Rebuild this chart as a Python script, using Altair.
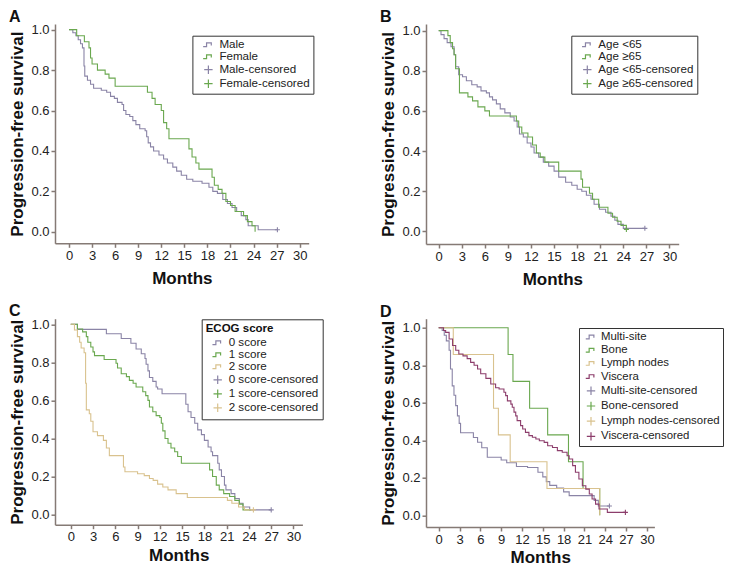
import altair as alt
import pandas as pd

FONT = "Liberation Sans"
AXC = "#857a75"
PURPLE = "#8a84a6"
GREEN = "#6aa84f"
TAN = "#d9c28e"
MAROON = "#8c3d6b"

STEP = "M-1,0.35H-0.35V-0.35H0.55V0.15"
CROSS = "M-0.8,0H0.8M0,-0.8V0.8"

# ---------------- Panel A : sex ----------------
A_MALE_T = [0, 0.5, 0.9, 1.2, 1.5, 1.75, 1.95, 2.05, 2.4, 2.8, 3.2, 4.2, 4.9, 5.4, 5.9, 6.3, 6.9, 7.1, 7.4, 7.9,
            8.3, 8.7, 9.2, 9.9, 10.1, 10.3, 10.6, 11.0, 11.7, 12.3, 12.8, 13.5, 14.0, 14.6, 15.3, 16.1, 17.3, 18.2,
            18.7, 19.3, 20.0, 20.6, 21.2, 21.8, 22.4, 23.0, 23.3, 24.6, 27.1]
A_MALE_S = [1.0, 0.985, 0.97, 0.95, 0.93, 0.91, 0.82, 0.77, 0.75, 0.73, 0.71, 0.70, 0.69, 0.67, 0.66, 0.64, 0.63,
            0.60, 0.58, 0.57, 0.55, 0.53, 0.51, 0.50, 0.47, 0.44, 0.42, 0.40, 0.38, 0.36, 0.34, 0.32, 0.30, 0.28,
            0.26, 0.25, 0.24, 0.22, 0.20, 0.19, 0.16, 0.14, 0.12, 0.10, 0.08, 0.06, 0.03, 0.01, 0.01]
A_FEMALE_T = [0, 1.0, 2.0, 2.6, 2.8, 3.0, 3.7, 4.7, 5.2, 6.0, 10.2, 10.8, 11.2, 12.0, 12.3, 12.7, 13.0, 15.6, 16.0,
              16.5, 16.9, 18.6, 18.9, 19.4, 19.9, 20.4, 21.0, 21.6, 22.7, 23.2, 23.8, 24.2]
A_FEMALE_S = [1.0, 0.97, 0.94, 0.91, 0.86, 0.83, 0.80, 0.78, 0.76, 0.72, 0.69, 0.66, 0.63, 0.60, 0.54, 0.51, 0.46,
              0.41, 0.37, 0.34, 0.31, 0.27, 0.23, 0.21, 0.19, 0.15, 0.13, 0.10, 0.08, 0.05, 0.03, 0.0]
A_CENS = [("Male-censored", 27.1, 0.01)]

# ---------------- Panel B : age ----------------
B_LT65_T = [0, 0.3, 0.7, 1.1, 1.6, 2.0, 2.2, 2.6, 3.1, 3.6, 4.3, 5.0, 5.5, 6.2, 6.6, 7.0, 7.5, 8.0, 8.6, 9.3, 9.8,
            10.2, 10.5, 11.0, 11.5, 12.0, 12.4, 13.0, 13.6, 14.3, 15.0, 15.6, 16.5, 17.3, 18.0, 18.6, 19.2, 19.8,
            20.2, 20.9, 21.7, 22.4, 22.9, 23.3, 24.0, 26.8]
B_LT65_S = [1.0, 0.98, 0.96, 0.94, 0.92, 0.88, 0.82, 0.78, 0.77, 0.75, 0.73, 0.72, 0.70, 0.69, 0.67, 0.655, 0.635,
            0.61, 0.59, 0.57, 0.55, 0.52, 0.485, 0.47, 0.44, 0.42, 0.39, 0.37, 0.345, 0.325, 0.30, 0.27, 0.245,
            0.23, 0.21, 0.20, 0.18, 0.16, 0.135, 0.11, 0.095, 0.075, 0.055, 0.035, 0.015, 0.015]
B_GE65_T = [0, 1.2, 1.5, 1.8, 2.0, 2.2, 2.7, 3.8, 4.4, 5.1, 6.0, 6.6, 10.1, 10.4, 10.8, 11.6, 12.2, 12.7, 13.2,
            13.8, 15.6, 18.5, 18.7, 19.6, 20.0, 20.8, 22.0, 22.6, 23.2, 23.7, 24.4]
B_GE65_S = [1.0, 0.975, 0.94, 0.91, 0.88, 0.81, 0.69, 0.67, 0.65, 0.62, 0.60, 0.575, 0.55, 0.52, 0.49, 0.47, 0.43,
            0.39, 0.37, 0.345, 0.30, 0.26, 0.22, 0.19, 0.16, 0.12, 0.09, 0.07, 0.05, 0.03, 0.01]
B_CENS = [("Age <65-censored", 26.8, 0.015), ("Age \u226565-censored", 24.4, 0.01)]

# ---------------- Panel C : ECOG score ----------------
C_0_T = [0, 0.9, 4.8, 6.8, 8.1, 8.8, 9.5, 10.0, 10.15, 10.4, 10.6, 11.05, 11.5, 11.7, 12.3, 15.5, 15.8, 16.2,
         16.7, 17.1, 17.6, 18.0, 18.5, 18.9, 19.1, 19.8, 20.0, 20.3, 20.7, 20.9, 21.6, 22.1, 22.7, 23.2, 24.1, 27.0]
C_0_S = [1.0, 0.973, 0.95, 0.925, 0.90, 0.87, 0.845, 0.82, 0.79, 0.755, 0.72, 0.70, 0.67, 0.66, 0.635, 0.58,
         0.54, 0.51, 0.48, 0.445, 0.42, 0.39, 0.355, 0.33, 0.31, 0.27, 0.235, 0.20, 0.155, 0.13, 0.11, 0.085,
         0.06, 0.04, 0.025, 0.025]
C_1_T = [0, 0.9, 1.6, 2.1, 2.3, 2.7, 3.0, 3.2, 4.5, 6.1, 6.3, 6.8, 7.5, 7.9, 8.4, 8.8, 9.7, 10.1, 10.4, 10.6,
         11.05, 11.5, 12.0, 12.2, 12.4, 12.7, 13.1, 13.5, 14.0, 14.4, 14.9, 18.7, 19.1, 19.6, 20.0, 20.6, 21.4,
         22.1, 22.7, 23.2, 24.3]
C_1_S = [1.0, 0.975, 0.96, 0.935, 0.905, 0.88, 0.855, 0.835, 0.815, 0.795, 0.77, 0.74, 0.725, 0.705, 0.69, 0.67,
         0.645, 0.625, 0.60, 0.565, 0.54, 0.52, 0.51, 0.48, 0.44, 0.40, 0.375, 0.35, 0.33, 0.305, 0.27, 0.235,
         0.20, 0.155, 0.13, 0.11, 0.095, 0.075, 0.055, 0.025, 0.025]
C_2_T = [0, 0.5, 0.9, 1.2, 1.4, 1.8, 2.0, 2.1, 2.5, 2.7, 3.0, 3.6, 4.4, 4.8, 5.2, 7.1, 7.3, 9.0, 9.9, 10.6, 11.1,
         11.7, 12.4, 13.1, 14.2, 15.7, 21.1, 21.7, 22.6, 23.4, 24.6]
C_2_S = [1.0, 0.97, 0.935, 0.905, 0.875, 0.85, 0.69, 0.55, 0.53, 0.49, 0.435, 0.415, 0.39, 0.35, 0.31, 0.25,
         0.225, 0.215, 0.205, 0.19, 0.18, 0.16, 0.145, 0.13, 0.11, 0.09, 0.075, 0.06, 0.04, 0.025, 0.025]
C_CENS = [("0 score-censored", 27.0, 0.025), ("2 score-censored", 24.6, 0.025)]

# ---------------- Panel D : metastatic site ----------------
D_MULTI_T = [0, 0.5, 0.8, 1.1, 1.5, 1.7, 1.95, 2.2, 2.45, 2.7, 2.95, 3.15, 5.0, 5.6, 6.2, 7.0, 9.0, 9.8, 11.2,
             12.8, 14.3, 15.0, 15.5, 16.0, 17.0, 18.0, 18.8, 22.4, 23.0, 24.6]
D_MULTI_S = [1.0, 0.985, 0.96, 0.93, 0.88, 0.78, 0.69, 0.64, 0.585, 0.53, 0.49, 0.44, 0.415, 0.39, 0.36, 0.31,
             0.295, 0.28, 0.26, 0.255, 0.23, 0.205, 0.18, 0.16, 0.145, 0.125, 0.105, 0.08, 0.05, 0.05]
D_BONE_T = [0, 10.0, 10.7, 13.1, 15.7, 18.7, 20.8, 23.2]
D_BONE_S = [1.0, 0.857, 0.714, 0.571, 0.429, 0.286, 0.143, 0.0]
D_LYMPH_T = [0, 2.1, 7.9, 8.6, 10.3, 15.6, 23.2]
D_LYMPH_S = [1.0, 0.857, 0.571, 0.429, 0.286, 0.143, 0.0]
D_VISC_T = [0, 0.7, 1.0, 1.5, 2.0, 2.45, 2.9, 3.5, 4.1, 4.6, 5.1, 5.6, 6.05, 6.8, 7.5, 8.2, 8.7, 9.4, 9.65, 9.9,
            10.4, 10.6, 10.85, 11.1, 11.3, 11.8, 12.1, 12.5, 13.0, 13.5, 14.0, 14.5, 15.2, 15.7, 16.4, 17.1, 17.8,
            18.5, 18.8, 19.3, 19.7, 20.2, 20.7, 21.2, 21.7, 22.1, 22.6, 23.1, 24.3, 26.9]
D_VISC_S = [1.0, 0.985, 0.975, 0.94, 0.905, 0.88, 0.86, 0.85, 0.835, 0.815, 0.80, 0.78, 0.755, 0.73, 0.70, 0.68,
            0.673, 0.656, 0.638, 0.61, 0.593, 0.576, 0.55, 0.53, 0.505, 0.478, 0.46, 0.442, 0.425, 0.416, 0.407,
            0.398, 0.389, 0.371, 0.362, 0.345, 0.336, 0.318, 0.30, 0.265, 0.23, 0.194, 0.158, 0.14, 0.114, 0.087,
            0.06, 0.034, 0.016, 0.016]
D_CENS = [("Multi-site-censored", 24.6, 0.05), ("Viscera-censored", 26.9, 0.016)]

X_TICKS = list(range(0, 31, 3))
Y_TICKS = [0.0, 0.2, 0.4, 0.6, 0.8, 1.0]


def panel(letter, series, censors, colors, xdom, ydom, w, h, leg, xpad):
    rows = []
    for lab, ts, ss in series:
        for t, s in zip(ts, ss):
            rows.append({"month": t, "surv": s, "label": lab})
    line_df = pd.DataFrame(rows)
    cens_df = pd.DataFrame([{"month": t, "surv": s, "label": lab} for lab, t, s in censors])
    line_labels = [s[0] for s in series]
    all_labels = line_labels + [l + "-censored" for l in line_labels]
    all_colors = colors + colors
    shapes = [STEP] * len(line_labels) + [CROSS] * len(line_labels)

    x = alt.X("month:Q", scale=alt.Scale(domain=xdom, nice=False, zero=False),
              axis=alt.Axis(values=X_TICKS, title="Months", titlePadding=xpad))
    y = alt.Y("surv:Q", scale=alt.Scale(domain=ydom, nice=False, zero=False),
              axis=alt.Axis(values=Y_TICKS, format=".1f", title="Progression-free survival"))

    lines = alt.Chart(line_df).mark_line(interpolate="step-after", strokeWidth=1.1).encode(
        x=x, y=y,
        stroke=alt.Stroke("label:N", scale=alt.Scale(domain=line_labels, range=colors), legend=None),
    )
    legend = alt.Legend(orient="none", strokeColor="#333333", fillColor="white",
                        labelFont=FONT, labelColor="#222222", symbolStrokeWidth=1.2,
                        symbolSize=110, labelLimit=400, **leg)
    pts = alt.Chart(cens_df).mark_point(filled=False, size=40, strokeWidth=1.1, opacity=1).encode(
        x=x, y=y,
        color=alt.Color("label:N", scale=alt.Scale(domain=all_labels, range=all_colors), legend=legend),
        shape=alt.Shape("label:N", scale=alt.Scale(domain=all_labels, range=shapes), legend=legend),
    )
    return alt.layer(lines, pts).properties(width=w, height=h, title=alt.Title(letter))


pA = panel("A", [("Male", A_MALE_T, A_MALE_S), ("Female", A_FEMALE_T, A_FEMALE_S)], A_CENS,
           [PURPLE, GREEN], [-1.82, 31.17], [-0.057, 1.028], 253.7, 219.3,
           dict(legendX=137.4, legendY=11.7, labelFontSize=11.6, rowPadding=0, title=None,
                padding=3, symbolOffset=7, labelOffset=5), 8)
pB = panel("B", [("Age <65", B_LT65_T, B_LT65_S), ("Age \u226565", B_GE65_T, B_GE65_S)], B_CENS,
           [PURPLE, GREEN], [-1.65, 31.2], [-0.063, 1.033], 252.7, 220,
           dict(legendX=145.3, legendY=11.7, labelFontSize=11.6, rowPadding=0, title=None,
                padding=3, symbolOffset=7, labelOffset=5), 8)
pC = panel("C", [("0 score", C_0_T, C_0_S), ("1 score", C_1_T, C_1_S), ("2 score", C_2_T, C_2_S)], C_CENS,
           [PURPLE, GREEN, TAN], [-2.12, 31.2], [-0.053, 1.029], 247.4, 206,
           dict(legendX=146.7, legendY=0.6, labelFontSize=11.6, rowPadding=0, title="ECOG score",
                titleFont=FONT, titleFontSize=11.5, titleFontWeight="bold", titleColor="#111111",
                titlePadding=2, padding=4, symbolOffset=6, labelOffset=5), 4)
pD = panel("D", [("Multi-site", D_MULTI_T, D_MULTI_S), ("Bone", D_BONE_T, D_BONE_S),
                 ("Lymph nodes", D_LYMPH_T, D_LYMPH_S), ("Viscera", D_VISC_T, D_VISC_S)], D_CENS,
           [PURPLE, GREEN, TAN, MAROON], [-1.83, 31.08], [-0.062, 1.048], 228.4, 208.3,
           dict(legendX=153, legendY=9.3, labelFontSize=11.4, rowPadding=1.2, title=None,
                padding=3, symbolOffset=3, labelOffset=4), 3)

chart = alt.concat(pA, pB, pC, pD, columns=2, spacing={"row": 74.7, "column": 117},
                   bounds="flush").properties(padding=0).resolve_scale(
    color="independent", shape="independent", stroke="independent", x="independent", y="independent"
).resolve_legend(color="independent", shape="independent", stroke="independent").configure_view(
    stroke=None).configure_axis(
    grid=False, domainColor=AXC, tickColor=AXC, domainWidth=1.5, tickWidth=1.5, tickSize=4,
    labelFont=FONT, labelFontSize=13, labelColor="#222222", labelPadding=2,
    titleFont=FONT, titleFontSize=17, titleFontWeight="bold", titleColor="#111111",
).configure_axisY(titlePadding=4).configure_title(
    font=FONT, fontSize=16, fontWeight="bold", anchor="start", frame="bounds", offset=-1, color="#111111"
)

chart.save("out.html", embed_options={"renderer": "svg", "actions": False})
